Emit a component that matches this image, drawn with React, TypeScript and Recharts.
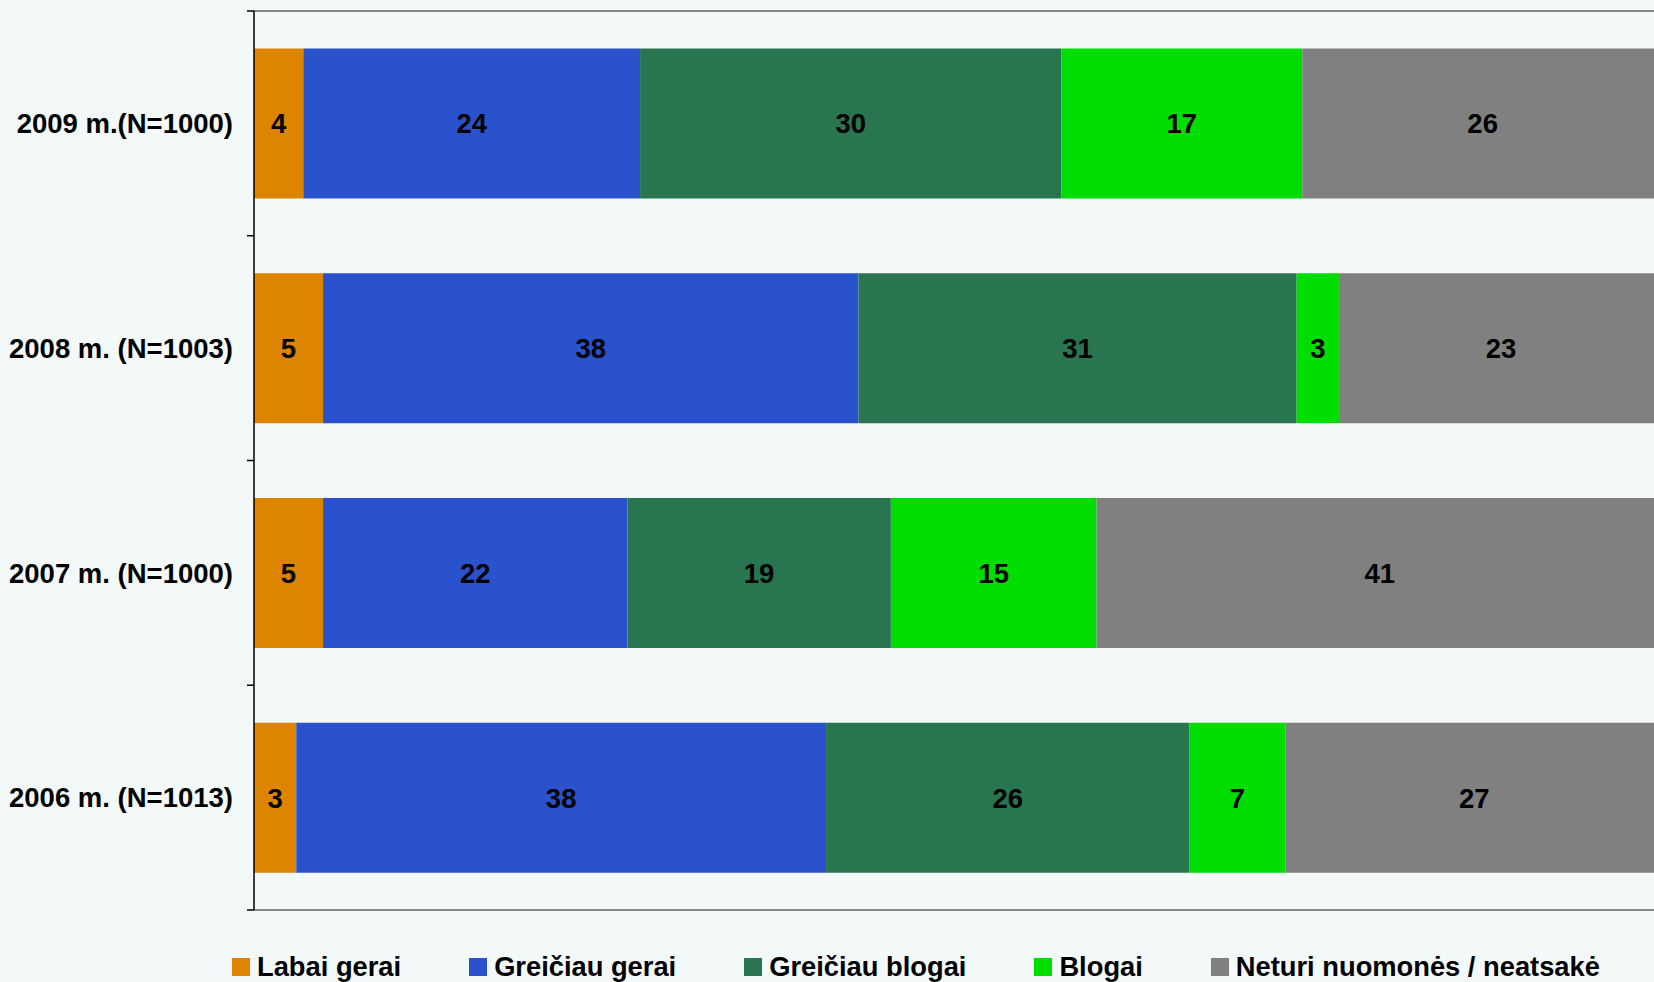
import React from "react";
import { BarChart, Bar, XAxis, YAxis, Legend, LabelList } from "recharts";

const years = ["2009 m.(N=1000)", "2008 m. (N=1003)", "2007 m. (N=1000)", "2006 m. (N=1013)"];

const labaiGerai = [3.5, 4.9, 4.9, 3.0];
const greiciauGerai = [23.9, 38.0, 21.6, 37.6];
const greiciauBlogai = [29.9, 31.1, 18.7, 25.8];
const blogai = [17.1, 3.0, 14.6, 6.8];
const neturi = [25.6, 23.0, 40.6, 26.8];

const seriesNames = ["Labai gerai", "Greičiau gerai", "Greičiau blogai", "Blogai", "Neturi nuomonės / neatsakė"];
const seriesKeys = ["labaiGerai", "greiciauGerai", "greiciauBlogai", "blogai", "neturi"];
const seriesColors = ["#DD8400", "#2952CC", "#297550", "#00DD00", "#808080"];

const data = years.map((year, i) => ({
  year,
  labaiGerai: labaiGerai[i],
  greiciauGerai: greiciauGerai[i],
  greiciauBlogai: greiciauBlogai[i],
  blogai: blogai[i],
  neturi: neturi[i],
}));

const FONT = "'Liberation Sans', Arial, sans-serif";
const LABEL_GAP = 21;
const TICK_LEN = 7;

// year label + tick marks on the category borders (Excel style)
const YearTick = (props: any) => {
  const { x, y, payload, index, height } = props;
  const half = payload.offset || height / years.length / 2;
  const axisX = x + LABEL_GAP;
  const last = index === years.length - 1;
  return (
    <g>
      <line x1={axisX - TICK_LEN} x2={axisX} y1={y - half} y2={y - half} stroke="#000" strokeWidth={1.5} />
      {last && <line x1={axisX - TICK_LEN} x2={axisX} y1={y + half} y2={y + half} stroke="#000" strokeWidth={1.5} />}
      <text
        x={x}
        y={y}
        dy="0.355em"
        textAnchor="end"
        fill="#000"
        fontSize={27.5}
        fontWeight="bold"
        fontFamily={FONT}
      >
        {payload.value}
      </text>
    </g>
  );
};

const renderLegend = () => (
  <div style={{ display: "flex", alignItems: "center", fontFamily: FONT, fontWeight: "bold", fontSize: 27.3 }}>
    {seriesNames.map((name, i) => (
      <div key={name} style={{ display: "flex", alignItems: "center", marginRight: 68 }}>
        <span style={{ width: 18, height: 18, background: seriesColors[i], display: "inline-block", marginRight: 7 }} />
        <span style={{ color: "#000" }}>{name}</span>
      </div>
    ))}
  </div>
);

export default function App() {
  return (
    <div
      style={{
        position: "absolute",
        left: 0,
        top: 0,
        width: 1654,
        height: 982,
        overflow: "hidden",
        background: "#F3F8F8",
        fontFamily: FONT,
      }}
    >
      <BarChart
        width={1700}
        height={982}
        data={data}
        layout="vertical"
        margin={{ top: 10, right: 37, left: 0, bottom: 39 }}
        barCategoryGap="16.7%"
      >
        <XAxis
          type="number"
          domain={[0, 100]}
          allowDataOverflow
          tick={false}
          tickLine={false}
          height={1}
          axisLine={{ stroke: "#888888", strokeWidth: 2 }}
        />
        <XAxis
          xAxisId="top"
          orientation="top"
          type="number"
          domain={[0, 100]}
          tick={false}
          tickLine={false}
          height={1}
          axisLine={{ stroke: "#888888", strokeWidth: 2 }}
        />
        <YAxis
          type="category"
          dataKey="year"
          width={254}
          tickLine={false}
          axisLine={{ stroke: "#000", strokeWidth: 1.5 }}
          tickSize={0}
          tickMargin={LABEL_GAP}
          interval={0}
          tick={<YearTick />}
        />
        <Legend
          verticalAlign="bottom"
          content={renderLegend}
          wrapperStyle={{ left: 232, top: 951, bottom: "auto", width: "auto" }}
        />
        {seriesKeys.map((key, i) => (
          <Bar
            key={key}
            dataKey={key}
            name={seriesNames[i]}
            stackId="a"
            fill={seriesColors[i]}
            isAnimationActive={false}
          >
            <LabelList
              dataKey={key}
              position="center"
              formatter={(v: any) => Math.round(Number(v))}
              style={{ fill: "#000", fontSize: 27.5, fontWeight: "bold", fontFamily: FONT }}
            />
          </Bar>
        ))}
      </BarChart>
    </div>
  );
}
